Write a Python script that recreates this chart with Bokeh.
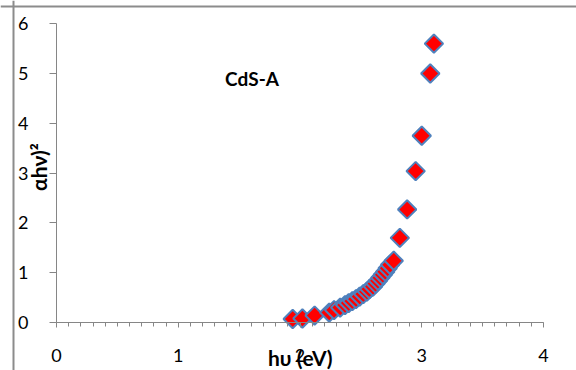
import numpy as np
from bokeh.plotting import figure
from bokeh.models import Range1d, Label, SingleIntervalTicker, Span
from bokeh.embed import file_html
from bokeh.resources import INLINE

# ---- data ----
hv_eV = [1.94, 2.02, 2.12, 2.24, 2.28, 2.33, 2.37, 2.40, 2.43, 2.46, 2.49, 2.52,
         2.55, 2.57, 2.60, 2.62, 2.64, 2.66, 2.68, 2.70, 2.72, 2.74, 2.77,
         2.82, 2.88, 2.95, 3.00, 3.07, 3.10]
ahv_sq = [0.07, 0.08, 0.14, 0.20, 0.25, 0.30, 0.35, 0.39, 0.43, 0.47, 0.52, 0.57,
          0.62, 0.67, 0.72, 0.78, 0.84, 0.90, 0.96, 1.02, 1.09, 1.16, 1.24,
          1.70, 2.27, 3.04, 3.75, 5.00, 5.60]
x_start, x_end = 0, 4
y_start, y_end = 0, 6
sample_name = "CdS-A"
x_title = "hυ (eV)"
y_title = "αhν)²"

FONT = "Lato"
AXIS_COL = "#868686"

# ---- layout (canvas pixels) ----
W, H = 576, 370
X0_PX = 56          # canvas x of value 0
Y0_PX = 322         # canvas y (from top) of value 0
PX_PER_X = 121.75
PX_PER_Y = 49.8

x_range = Range1d(-X0_PX / PX_PER_X, (W - X0_PX) / PX_PER_X)
y_range = Range1d(-(H - Y0_PX) / PX_PER_Y, Y0_PX / PX_PER_Y)

p = figure(width=W, height=H, x_range=x_range, y_range=y_range,
           output_backend="svg", toolbar_location=None,
           min_border=0)
p.outline_line_color = None
p.xgrid.visible = False
p.ygrid.visible = False

xa = p.xaxis[0]
xa.fixed_location = 0
xa.bounds = (x_start, x_end)
xa.ticker = SingleIntervalTicker(interval=1, num_minor_ticks=10)
xa.major_tick_in = 0
xa.major_tick_out = 5
xa.minor_tick_in = 0
xa.minor_tick_out = 4
xa.major_label_standoff = 21
xa.minor_tick_line_color = AXIS_COL

ya = p.yaxis[0]
ya.fixed_location = 0
ya.bounds = (y_start, y_end)
ya.ticker = SingleIntervalTicker(interval=1, num_minor_ticks=0)
ya.major_tick_in = 0
ya.major_tick_out = 7
ya.minor_tick_line_color = None
ya.major_label_standoff = 21

for ax in (xa, ya):
    ax.axis_line_color = AXIS_COL
    ax.major_tick_line_color = AXIS_COL
    ax.major_label_text_font = FONT
    ax.major_label_text_font_size = "18px"
    ax.major_label_text_color = "#000000"

# chart-area border (left and top edges visible in the reference)
p.add_layout(Span(location=(13 - X0_PX) / PX_PER_X, dimension="height",
                  line_color="#8c8c8c", line_width=2))
p.add_layout(Span(location=(Y0_PX - 6) / PX_PER_Y, dimension="width",
                  line_color="#8c8c8c", line_width=2))

p.scatter(hv_eV, ahv_sq, marker="square", angle=np.pi / 4, size=13,
          fill_color="red", line_color="#4F81BD", line_width=2)

p.add_layout(Label(x=1.385, y=4.9, text=sample_name, text_font=FONT,
                   text_font_style="bold", text_font_size="19px",
                   text_baseline="middle", text_color="#000000"))
p.add_layout(Label(x=2.0, y=0, y_offset=-35, text=x_title, text_font=FONT,
                   text_font_style="bold", text_font_size="21px",
                   text_align="center", text_baseline="middle", text_color="#000000"))
p.add_layout(Label(x=0, y=3, x_offset=-18, y_offset=6, angle=np.pi / 2, text=y_title,
                   text_font=FONT, text_font_style="bold", text_font_size="21px",
                   text_align="center", text_baseline="middle", text_color="#000000"))

open("out.html", "w").write(file_html(p, INLINE))
